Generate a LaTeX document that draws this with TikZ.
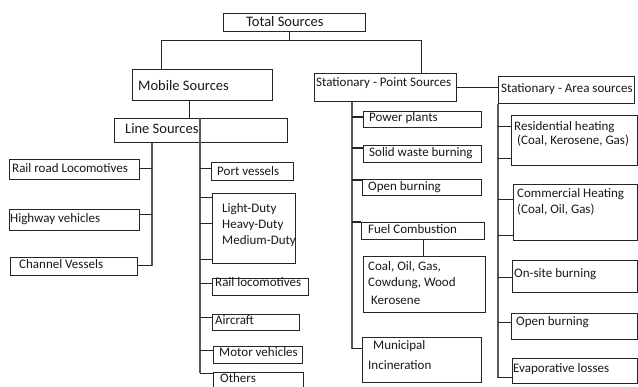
\documentclass[tikz,border=0pt]{standalone}
\usepackage{fontspec}
\setmainfont{Carlito}
\usetikzlibrary{calc}
\tikzset{
 box/.style={draw=black!85, line width=0.8pt, inner sep=0pt, anchor=north west},
 conn/.style={draw=black!85, line width=0.9pt},
 trunk/.style={draw=black!65, line width=1.3pt},
 txt/.style={anchor=base west, inner sep=0pt, text=black!90, font=\fontsize{13}{15}\selectfont},
 big/.style={font=\fontsize{14.5}{17}\selectfont},
}
\newcommand\mybox[5]{\node[box, minimum width={(#4-#2)*1pt}, minimum height={(#5-#3)*1pt}] (#1) at (#2,#3) {};}
\newcommand\mytext[5][]{\node[txt,#1] (#2) at (#3,#4) {#5};}
\newcommand\branch[5][]{\path ($(#2.north #3)+(0,#4)$) coordinate (tmpb); \draw[conn,#1] (tmpb) -- (tmpb -| #5);}
\begin{document}
\begin{tikzpicture}[x=1pt,y=-1pt]
\clip (0,0) rectangle (638,387);
\fill[white] (0,0) rectangle (638,387);
% boxes
\mybox{tot}{223}{13}{365}{31}
\mybox{mob}{132}{69}{272}{100}
\mybox{lin}{114}{118}{287}{142}
\mybox{rrl}{9}{159}{139}{179}
\mybox{hwy}{9}{209}{139}{230}
\mybox{chv}{10}{257}{137}{275}
\mybox{prt}{211}{162}{293}{180}
\mybox{lhm}{212}{193}{295}{263}
\mybox{rlo}{212}{278}{308}{295}
\mybox{air}{212}{314}{299}{330}
\mybox{mot}{213}{346}{302}{363}
\mybox{oth}{213}{372}{303}{395}
\mybox{pt}{314}{73}{456}{101}
\mybox{ar}{498}{76}{634}{103}
\mybox{pow}{363}{111}{481}{127}
\mybox{sol}{363}{145}{481}{162}
\mybox{opb}{362}{179}{481}{195}
\mybox{fc}{361}{222}{484}{239}
\mybox{coal}{363}{256}{485}{312}
\mybox{mun}{362}{337}{481}{382}
\mybox{res}{511}{115}{637}{165}
\mybox{com}{513}{184}{637}{240}
\mybox{ons}{512}{260}{637}{292}
\mybox{opa}{511}{313}{637}{339}
\mybox{eva}{512}{358}{637}{383}
% texts
\mytext[big]{ttot}{246}{27}{Total Sources}
\mytext[big]{tmob}{138}{91}{Mobile Sources}
\mytext[big]{tlin}{125}{134}{Line Sources}
\mytext{trrl}{12}{173}{Rail road Locomotives}
\mytext{thwy}{10}{223}{Highway vehicles}
\mytext{tchv}{19}{269}{Channel Vessels}
\mytext{tprt}{217}{176}{Port vessels}
\mytext{tl1}{222}{213}{Light-Duty}
\mytext{tl2}{222}{229}{Heavy-Duty}
\mytext{tl3}{222}{245}{Medium-Duty}
\mytext{trlo}{215}{287}{Rail locomotives}
\mytext{tair}{215}{325}{Aircraft}
\mytext{tmot}{219}{357}{Motor vehicles}
\mytext{toth}{220}{383}{Others}
\mytext{tpt}{316}{87}{Stationary - Point Sources}
\mytext{tar}{501}{93}{Stationary - Area sources}
\mytext{tpow}{369}{122}{Power plants}
\mytext{tsol}{369}{157}{Solid waste burning}
\mytext{topb}{368}{191}{Open burning}
\mytext{tfc}{368}{234}{Fuel Combustion}
\mytext{tc1}{368}{271}{Coal, Oil, Gas,}
\mytext{tc2}{368}{287}{Cowdung, Wood}
\mytext{tc3}{371}{305}{Kerosene}
\mytext{tm1}{373}{350}{Municipal}
\mytext{tm2}{368}{370}{Incineration}
\mytext{tr1}{514}{131}{Residential heating}
\mytext{tr2}{517}{145}{(Coal, Kerosene, Gas)}
\mytext{tco1}{517}{198}{Commercial Heating}
\mytext{tco2}{517}{214}{(Coal, Oil, Gas)}
\mytext{tons}{514}{278}{On-site burning}
\mytext{topa}{516}{326}{Open burning}
\mytext{teva}{513}{373}{Evaporative losses}
% top connectors
\draw[conn] ([xshift=-5pt]tot.south) -- ++(0,9) coordinate (tj);
\draw[conn] ([xshift=29pt]mob.north west) |- (tj) -| ([xshift=107pt]pt.north west);
\draw[conn] ([xshift=57pt]mob.south west) -- ([xshift=75pt]lin.north west);
\draw[conn] (pt.east) -- (pt.east -| ar.west);
\draw[conn] ([xshift=62pt]fc.south west) -- ([xshift=60pt]coal.north west);
% trunks
\draw[trunk] ([xshift=38pt]lin.south west) -- ++(0,123) coordinate (lbot);
\draw[trunk] ([xshift=86pt]lin.north west) -- ++(0,255) coordinate (rbot);
\draw[trunk] ([xshift=38pt]pt.south west) -- ++(0,247) coordinate (pbot);
\draw[trunk] (ar.south west) -- ++(0,274) coordinate (abot);
% branches left
\branch{rrl}{east}{9}{lbot}
\branch{hwy}{east}{5}{lbot}
\branch{chv}{east}{8}{lbot}
% branches right of line sources
\branch{prt}{west}{6}{rbot}
\branch{lhm}{west}{4}{rbot}
\branch{lhm}{west}{30}{rbot}
\branch{lhm}{west}{66}{rbot}
\branch{rlo}{west}{5}{rbot}
\branch{air}{west}{3}{rbot}
\branch{mot}{west}{4}{rbot}
\branch{oth}{west}{1}{rbot}
% point sources
\branch[line width=1.6pt]{pow}{west}{6}{pbot}
\branch[line width=1.4pt]{sol}{west}{3}{pbot}
\branch[line width=1.4pt]{opb}{west}{1}{pbot}
\branch[line width=1.4pt]{fc}{west}{0}{pbot}
\branch{mun}{west}{11}{pbot}
% area sources
\branch{res}{west}{11}{abot}
\branch{res}{west}{43}{abot}
\branch{com}{west}{15}{abot}
\branch{com}{west}{51}{abot}
\branch{ons}{west}{17}{abot}
\branch{opa}{west}{9}{abot}
\branch{eva}{west}{19}{abot}
\end{tikzpicture}
\end{document}
